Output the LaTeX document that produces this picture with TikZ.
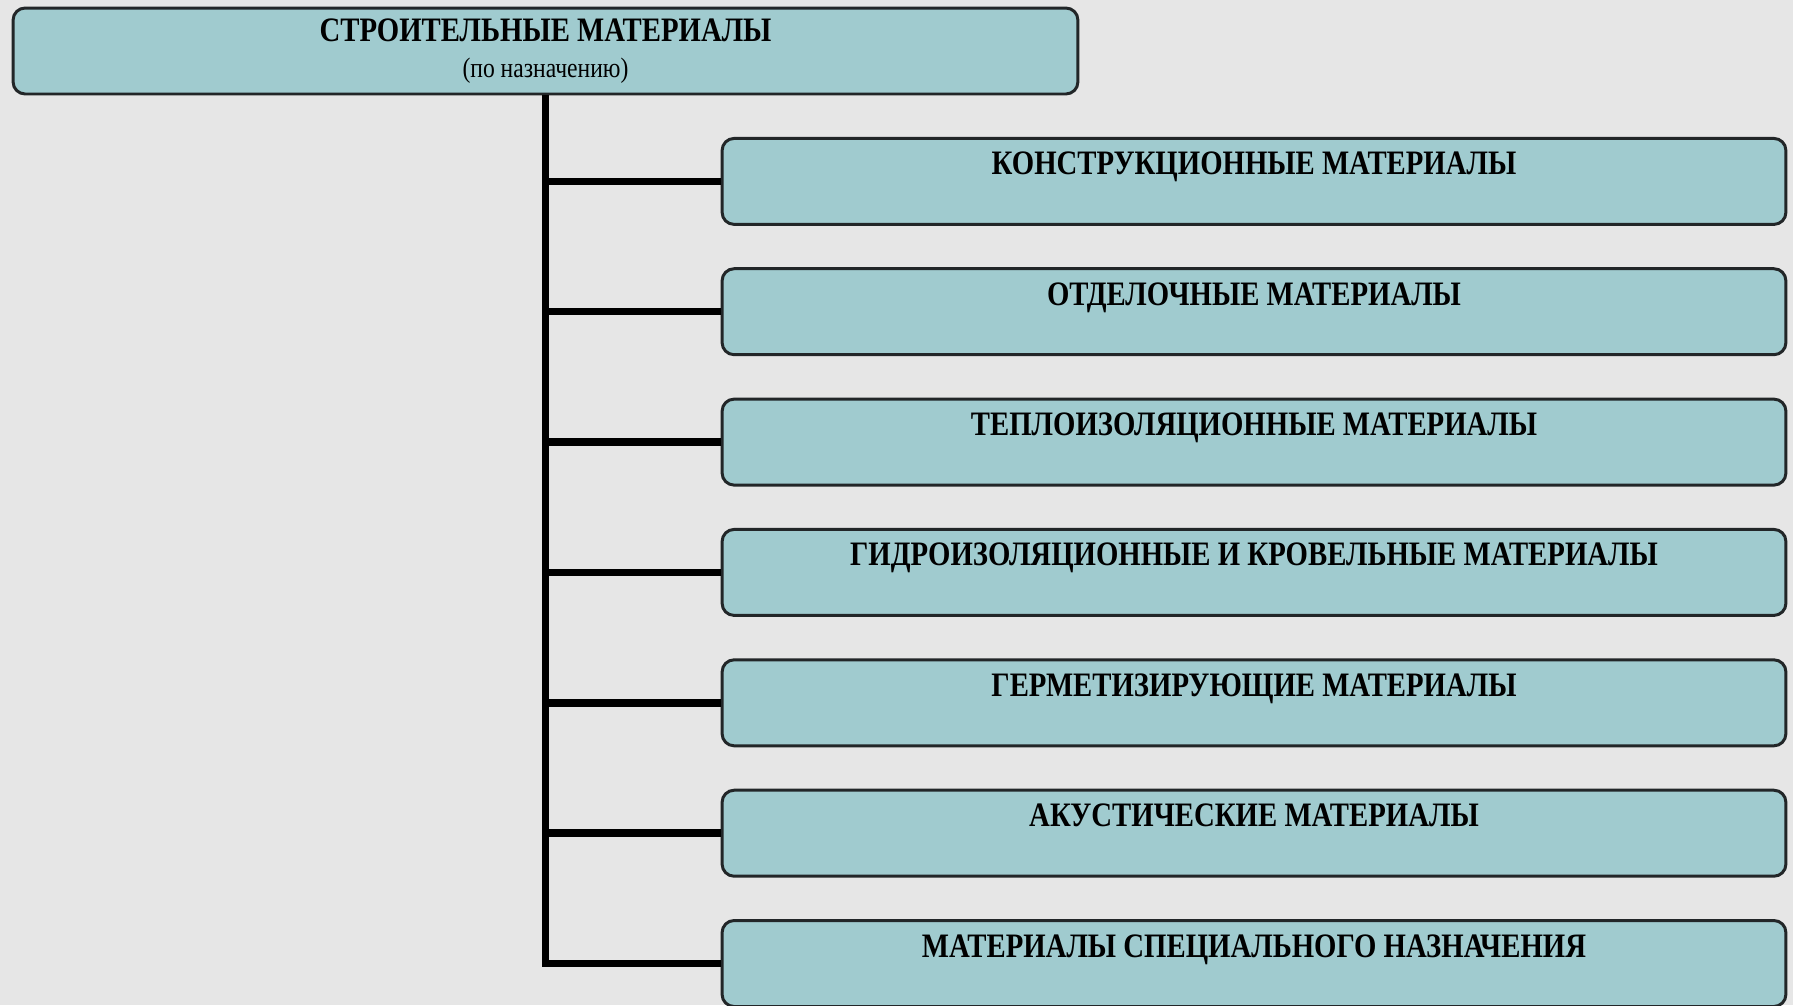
\documentclass[tikz,border=0pt]{standalone}
\usepackage{fontspec}
\setmainfont{Liberation Serif}
\newfontfamily\boxfont[FakeStretch=0.84]{Liberation Serif}
\definecolor{pagebg}{RGB}{230,230,230}
\definecolor{boxfill}{RGB}{160,203,207}
\definecolor{boxline}{RGB}{34,38,40}
\begin{document}
\begin{tikzpicture}[x=0.02cm,y=-0.02cm,
  font=\boxfont\fontsize{19.5}{23}\selectfont\bfseries,
  topbox/.style={draw=boxline,fill=boxfill,line width=1.7pt,rounded corners=0.24cm,
    minimum width=21.3cm,minimum height=1.72cm,align=center,inner sep=0pt},
  kindbox/.style={draw=boxline,fill=boxfill,line width=1.7pt,rounded corners=0.24cm,
    minimum width=21.28cm,minimum height=1.72cm,inner sep=0pt,
    text height=0.46cm,text depth=0.72cm},
  trunk/.style={line width=4.3pt,black}]
\path[fill=pagebg] (0,0) rectangle (1793,1005);
\useasboundingbox (0,0) rectangle (1793,1005);
\node[topbox] (root) at (545.5,51) {СТРОИТЕЛЬНЫЕ МАТЕРИАЛЫ\\[-2.5pt]{\mdseries\fontsize{16}{18}\selectfont (по назначению)}};
\node[kindbox] (k1) at (1254,181.4) {КОНСТРУКЦИОННЫЕ МАТЕРИАЛЫ};
\node[kindbox] (k2) at (1254,311.7) {ОТДЕЛОЧНЫЕ МАТЕРИАЛЫ};
\node[kindbox] (k3) at (1254,442.1) {ТЕПЛОИЗОЛЯЦИОННЫЕ МАТЕРИАЛЫ};
\node[kindbox] (k4) at (1254,572.4) {ГИДРОИЗОЛЯЦИОННЫЕ И КРОВЕЛЬНЫЕ МАТЕРИАЛЫ};
\node[kindbox] (k5) at (1254,702.8) {ГЕРМЕТИЗИРУЮЩИЕ МАТЕРИАЛЫ};
\node[kindbox] (k6) at (1254,833.2) {АКУСТИЧЕСКИЕ МАТЕРИАЛЫ};
\node[kindbox] (k7) at (1254,963.5) {МАТЕРИАЛЫ СПЕЦИАЛЬНОГО НАЗНАЧЕНИЯ};
\draw[trunk] (root.south) -- (root.south |- k7.west) -- (k7.west);
\draw[trunk] (root.south |- k1.west) -- (k1.west);
\draw[trunk] (root.south |- k2.west) -- (k2.west);
\draw[trunk] (root.south |- k3.west) -- (k3.west);
\draw[trunk] (root.south |- k4.west) -- (k4.west);
\draw[trunk] (root.south |- k5.west) -- (k5.west);
\draw[trunk] (root.south |- k6.west) -- (k6.west);
\end{tikzpicture}
\end{document}
